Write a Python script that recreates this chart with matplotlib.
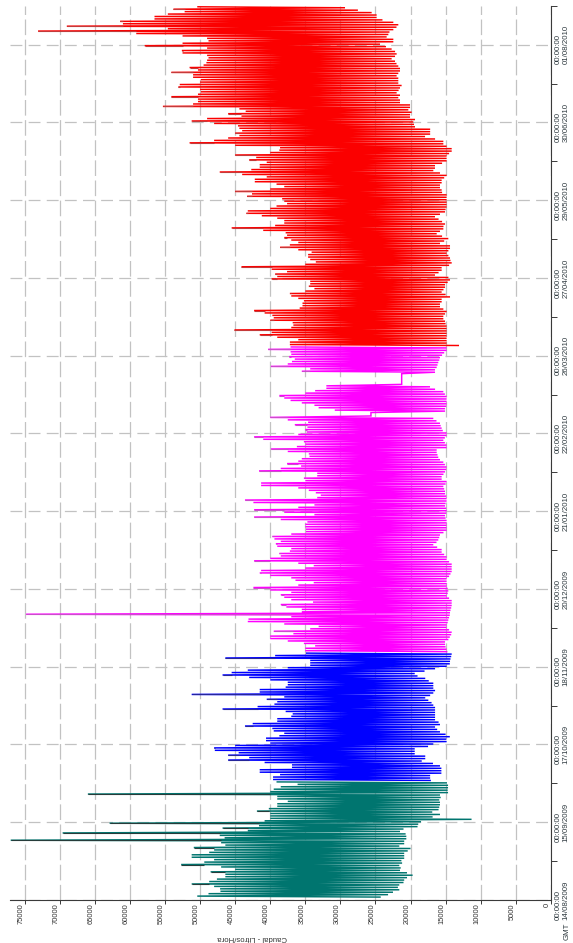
import numpy as np
import matplotlib
matplotlib.use("Agg")
import matplotlib.pyplot as plt
import matplotlib.dates as mdates
from datetime import datetime, timedelta

plt.rcParams["font.family"] = ["Liberation Sans", "DejaVu Sans"]

# ---------------------------------------------------------------------------
# Hourly flow, summarised per day as the daily peak and the night minimum
# (litres/hour).  Each meter period starts on its own first day.
# ---------------------------------------------------------------------------
ORIGIN = datetime(2009, 8, 14)

teal_start = "15/08/2009"
teal_max = [50400, 48800, 47100, 47150, 48000, 51200, 48700, 47600, 46400, 46400,
            48500, 45000, 47000, 52700, 49400, 48000, 51200, 51200, 48700, 48000,
            50900, 46400, 47000, 77000, 46500, 47200, 69600, 43200, 46800, 41600,
            62900, 40800, 40000, 40000, 40000, 41900, 40200, 39000, 39000, 37500,
            39000, 39000, 66000, 40000, 39500, 38500, 36100, 39000]
teal_min = [24350, 23200, 22500, 21600, 21800, 21600, 21000, 20900, 20500, 19700,
            20500, 21500, 21400, 21600, 21200, 21300, 20900, 20900, 20900, 20400,
            20000, 21600, 20900, 20900, 20600, 20600, 20700, 21500, 21000, 19000,
            18900, 18500, 11300, 16850, 15800, 16900, 16000, 15900, 15800, 15800,
            15900, 15700, 15800, 14650, 14700, 14650, 14650, 14800]

blue_start = "02/10/2009"
blue_max = [39600, 39600, 38600, 41500, 41500, 36900, 36900, 40800, 46000, 43000,
            46000, 44500, 47900, 48000, 45000, 40000, 40600, 40600, 38700, 38000,
            39500, 39700, 43600, 42500, 39000, 39000, 37000, 36800, 37800, 46800,
            41800, 39400, 39000, 40500, 38000, 51200, 41500, 41500, 37800, 37500,
            37500, 40000, 43000, 46800, 45500, 43200, 37500, 34300, 34300, 34300,
            46400, 39300, 34800]
blue_min = [17200, 17200, 17200, 15600, 15600, 15600, 15800, 16800, 18400, 17900,
            17900, 19400, 19400, 19400, 17500, 16750, 14850, 14900, 14400, 15000,
            15800, 16200, 16500, 15800, 16000, 16500, 16500, 16500, 16500, 16500,
            16500, 16750, 17000, 17460, 17900, 17200, 16750, 16500, 16750, 16750,
            16750, 17400, 17900, 19000, 19400, 18000, 16500, 14850, 14400, 14370,
            14300, 14200, 14130]

magenta_start = "24/11/2009"
magenta_max = [35000, 35000, 33600, 35200, 37500, 40000, 40000, 36700, 39500, 34300,
               33100, 38000, 43200, 43100, 37000, 74800, 35500, 35500, 37700, 38500,
               33900, 37000, 38000, 38500, 37000, 40000, 42400, 36000, 33800, 36400,
               37000, 40000, 41500, 41300, 35000, 33800, 36000, 42300, 40000, 38500,
               38700, 37200, 37000, 39000, 39200, 38500, 39400, 39700, 37000, 34900,
               34900, 35000, 35000, 34700, 38500, 42300, 33700, 38000, 42300, 36000,
               33700, 42400, 43600, 33300, 32800, 33500, 34500, 36000, 41300, 41300,
               35000, 35200, 33300, 33300, 41600, 38500, 35600, 37600, 36000, 35500,
               34400, 34500, 37500, 39900, 36200, 35000, 35200, 41000, 42300, 36000,
               34800, 35000, 34700, 36500, 34600, 37500, 40000, 25640, 25640, 30800,
               33100, 33700, 35500, 37100, 38000, 38700, 35000, 33600, 32000, 32000,
               21260, 21260, 21260, 21260, 21260, 35500, 34300, 39900, 37500, 36900,
               36500, 37300, 37000, 37100, 40300, 37000]
magenta_min = [14850, 14850, 15000, 15080, 15080, 14600, 14400, 14200, 14130, 14500,
               14850, 14850, 14700, 14610, 14500, 14400, 14370, 14300, 14200, 14130,
               14130, 14130, 14500, 14850, 14700, 14610, 14700, 14850, 14850, 14850,
               14850, 14500, 14300, 14130, 14130, 14130, 14130, 14500, 14850, 14850,
               15200, 15560, 15560, 16200, 16750, 16300, 16040, 15900, 15800, 15300,
               14850, 14850, 14850, 14850, 14850, 15000, 15080, 14900, 14850, 14900,
               15080, 15000, 14850, 14850, 14900, 15080, 15080, 15200, 15320, 15000,
               14850, 15560, 15560, 15300, 15080, 14900, 14850, 15100, 15320, 15800,
               16040, 16150, 16270, 16270, 14850, 14850, 15100, 15320, 15100, 14850,
               14850, 15400, 15560, 15700, 15800, 16300, 16750, 25640, 25640, 15080,
               15080, 14900, 14850, 14850, 14850, 14850, 15100, 15320, 16500, 17220,
               21260, 21260, 21260, 21260, 21260, 16510, 16510, 16270, 16150, 16040,
               15900, 15800, 15500, 15200, 14850, 14850]

red_start = "30/03/2010"
red_max = [37200, 37200, 36000, 39000, 41500, 39800, 45100, 37000, 36700, 36800,
           40000, 39500, 39700, 40800, 42300, 35800, 35400, 35400, 35200, 36000,
           37000, 37200, 35000, 33700, 34500, 34300, 34300, 39800, 39000, 39300,
           37600, 39800, 44100, 35000, 33500, 34300, 34600, 34600, 34100, 36000,
           38600, 37200, 36000, 37000, 38000, 37600, 37800, 41000, 45500, 39300,
           38000, 38000, 39000, 41200, 43400, 43200, 40000, 39100, 37600, 38000,
           38300, 43300, 42600, 45000, 40000, 38000, 39100, 42200, 42200, 40500,
           44000, 47200, 42700, 41500, 41500, 40500, 43000, 42000, 45000, 40000,
           38700, 38600, 45000, 51500, 48000, 46000, 44400, 45000, 44000, 44400,
           44600, 48000, 51200, 49000, 44100, 46000, 43500, 44400, 55300, 51000,
           50300, 50300, 54100, 50300, 49900, 50000, 53100, 52900, 50000, 49900,
           51000, 51000, 54100, 50300, 51500, 49500, 49100, 49000, 48800, 49000,
           52500, 52600, 49000, 57900, 52500, 48800, 49000, 52500, 59100, 73100,
           54600, 69000, 61000, 61400, 56500, 56500, 54600, 52200, 53800, 50300]
red_min = [13190, 14850, 14850, 14850, 14850, 14850, 14850, 14850, 14850, 15000,
           15080, 15320, 15320, 15080, 14850, 15320, 15800, 15800, 15560, 15560,
           14370, 15000, 15560, 15300, 15080, 15080, 14700, 14370, 14600, 16510,
           16000, 15560, 15560, 14500, 14130, 14300, 14370, 14600, 14850, 14600,
           14370, 14370, 15800, 15200, 14610, 15500, 16270, 15800, 15320, 15300,
           15080, 15500, 16000, 16510, 15800, 15080, 15000, 14850, 14850, 14850,
           14850, 14850, 14850, 15500, 15560, 15800, 15800, 15560, 15560, 15200,
           14850, 15800, 16750, 16510, 16510, 15500, 14850, 14850, 14850, 14500,
           14130, 14130, 14850, 15320, 15320, 16500, 17930, 17200, 17200, 17200,
           19360, 19500, 19600, 19360, 20070, 20070, 19840, 20310, 20070, 20070,
           21500, 21500, 21740, 21500, 21980, 21700, 21500, 21270, 21740, 21740,
           21740, 21980, 21740, 21500, 21500, 21740, 22000, 22210, 22690, 22210,
           21980, 22200, 22690, 23500, 24350, 22450, 22450, 23400, 23160, 23000,
           22450, 22000, 21740, 22450, 24000, 24830, 24830, 25540, 27500, 29340]

series = [
    (teal_start, teal_max, teal_min, "#00756f", "#263c3a"),
    (blue_start, blue_max, blue_min, "#0000ff", "#26269a"),
    (magenta_start, magenta_max, magenta_min, "#ff00ff", "#cc4ccc"),
    (red_start, red_max, red_min, "#fb0000", "#c43a3a"),
]

# Date axis: one label every 32 days, minor ticks half way
date_ticks = ["14/08/2009", "15/09/2009", "17/10/2009", "18/11/2009",
              "20/12/2009", "21/01/2010", "22/02/2010", "26/03/2010",
              "27/04/2010", "29/05/2010", "30/06/2010", "01/08/2010"]
value_ticks = list(range(0, 75001, 5000))


def parse(s):
    return datetime.strptime(s, "%d/%m/%Y")


W, H, DPI = 573, 943, 100
fig = plt.figure(figsize=(W / DPI, H / DPI), dpi=DPI)
fig.patch.set_facecolor("white")

# rotated layout: flow runs right-to-left along the bottom, time runs upward
ax = fig.add_axes([10 / W, 43 / H, 540.8 / W, 894.2 / H])

for start, vmax, vmin, color, tip in series:
    d0 = parse(start)
    n = len(vmax)
    t_lo = [mdates.date2num(d0 + timedelta(days=i + 0.2)) for i in range(n)]
    t_hi = [mdates.date2num(d0 + timedelta(days=i + 0.6)) for i in range(n)]
    tt = np.ravel(np.column_stack([t_lo, t_hi]))
    vv = np.ravel(np.column_stack([vmin, vmax]))
    ax.plot(vv, tt, color=color, lw=1.05, solid_joinstyle="miter", zorder=3)
    # the part of a peak that stands clear of both neighbouring days
    vmax_a = np.asarray(vmax, float)
    prev_ = np.concatenate([[vmax_a[0]], vmax_a[:-1]])
    next_ = np.concatenate([vmax_a[1:], [vmax_a[-1]]])
    base = np.maximum(np.maximum(prev_, next_), vmin)
    sel = vmax_a > base
    ax.hlines(np.asarray(t_hi)[sel], base[sel], vmax_a[sel], color=tip, lw=0.8, zorder=4)

t0 = mdates.date2num(ORIGIN)
t1 = mdates.date2num(ORIGIN + timedelta(days=368))
ax.set_xlim(77100, 0)
ax.set_ylim(t0, t1)

# grid
for v in value_ticks:
    ax.axvline(v, color="#c2c2c2", lw=0.9, dashes=(12.5, 3.6), zorder=1)
major = [mdates.date2num(parse(s)) for s in date_ticks]
for m in major:
    ax.axhline(m, color="#c2c2c2", lw=0.9, dashes=(9.5, 5.0), zorder=1)

for side in ("top", "left"):
    ax.spines[side].set_visible(False)
for side in ("bottom", "right"):
    ax.spines[side].set_color("#3a3a3a")
    ax.spines[side].set_linewidth(0.8)

# value axis (bottom)
ax.set_xticks(value_ticks)
ax.set_xticklabels([str(v) for v in value_ticks], rotation=90, ha="right",
                   fontsize=5.4, color="#333333")
ax.tick_params(axis="x", direction="out", length=3, width=0.7, color="#3a3a3a", pad=-0.7)

# time axis (right)
ax.yaxis.tick_right()
ax.set_yticks(major)
ax.set_yticklabels(["00:00:00\n" + s for s in date_ticks], rotation=90,
                   va="center", ha="left", fontsize=5.7, color="#2f3a40",
                   linespacing=1.15)
minor = [m + 16 for m in major]
ax.set_yticks(minor, minor=True)
ax.tick_params(axis="y", which="major", direction="out", length=0, pad=3.0)
ax.tick_params(axis="y", which="minor", direction="out", length=4, width=0.7, color="#3a3a3a")

fig.text(252 / W, 1 - 938 / H, "Caudal - Litros/Hora", rotation=180,
         ha="center", va="center", fontsize=5.6, color="#333333")
fig.text(567 / W, 1 - 931 / H, "GMT", rotation=90, ha="center", va="center",
         fontsize=5.7, color="#2f3a40")

fig.savefig("out.png", dpi=DPI, facecolor="white")
